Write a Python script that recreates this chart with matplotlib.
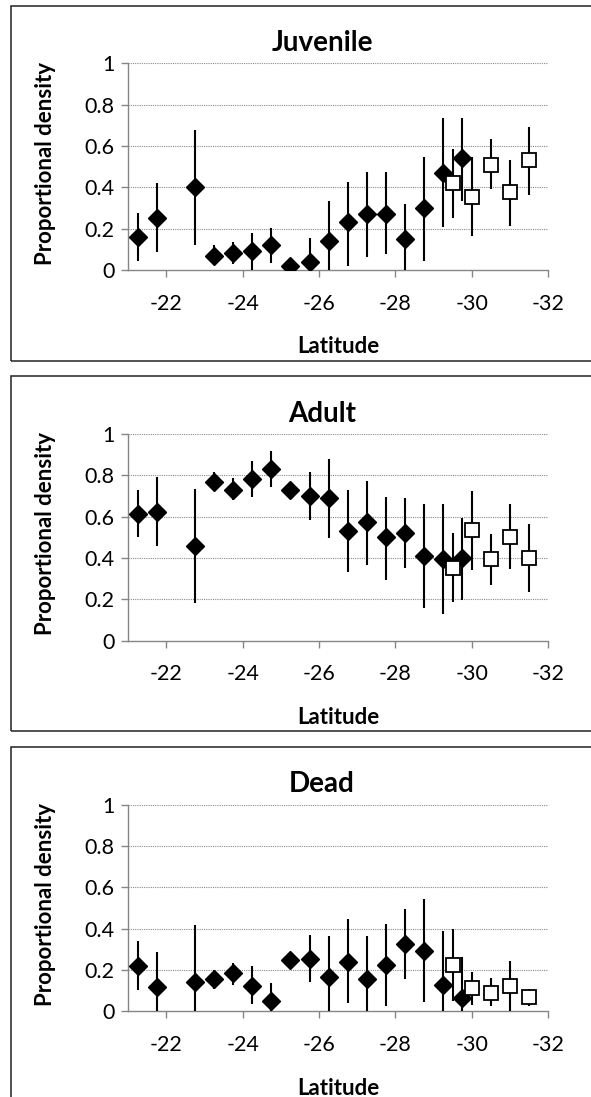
#!/usr/bin/env python3

import matplotlib
matplotlib.use("Agg")
import matplotlib.pyplot as plt
from matplotlib.patches import Rectangle


# Config

W, H = 591, 1097
DPI = 100
PANEL_STEP = 370.7
FONT = ["Lato", "DejaVu Sans"]
AXIS_GREY = "#868686"

# Data

lat_diamond = [-21.25, -21.75, -22.75, -23.25, -23.75, -24.25, -24.75, -25.25,
               -25.75, -26.25, -26.75, -27.25, -27.75, -28.25, -28.75, -29.25, -29.75]
lat_square = [-29.5, -30.0, -30.5, -31.0, -31.5]

juv_d = [0.16, 0.25, 0.40, 0.07, 0.08, 0.09, 0.12, 0.02, 0.04, 0.14, 0.23,
         0.27, 0.27, 0.15, 0.30, 0.47, 0.54]
juv_d_lo = [0.045, 0.085, 0.12, 0.025, 0.027, 0.0, 0.032, 0.02, 0.0, 0.0, 0.02,
            0.065, 0.075, 0.0, 0.045, 0.21, 0.335]
juv_d_hi = [0.275, 0.42, 0.675, 0.12, 0.135, 0.18, 0.205, 0.02, 0.155, 0.335, 0.425,
            0.475, 0.475, 0.32, 0.545, 0.735, 0.735]
juv_s = [0.42, 0.355, 0.51, 0.375, 0.53]
juv_s_lo = [0.25, 0.165, 0.39, 0.215, 0.365]
juv_s_hi = [0.585, 0.545, 0.635, 0.53, 0.69]

adult_d = [0.615, 0.625, 0.46, 0.77, 0.73, 0.78, 0.83, 0.73, 0.70, 0.69, 0.53,
           0.575, 0.50, 0.52, 0.41, 0.395, 0.40]
adult_d_lo = [0.50, 0.46, 0.18, 0.725, 0.68, 0.695, 0.745, 0.73, 0.585, 0.495, 0.33,
              0.365, 0.295, 0.35, 0.16, 0.13, 0.195]
adult_d_hi = [0.73, 0.79, 0.735, 0.815, 0.785, 0.87, 0.92, 0.73, 0.815, 0.88, 0.73,
              0.775, 0.695, 0.69, 0.66, 0.66, 0.595]
adult_s = [0.35, 0.535, 0.395, 0.50, 0.40]
adult_s_lo = [0.185, 0.34, 0.27, 0.345, 0.235]
adult_s_hi = [0.52, 0.725, 0.515, 0.66, 0.565]

dead_d = [0.22, 0.12, 0.14, 0.155, 0.185, 0.125, 0.05, 0.25, 0.255, 0.165, 0.24,
          0.155, 0.225, 0.325, 0.29, 0.13, 0.065]
dead_d_lo = [0.105, 0.0, 0.0, 0.11, 0.13, 0.035, 0.0, 0.25, 0.14, 0.0, 0.04,
             0.0, 0.025, 0.155, 0.045, 0.0, 0.0]
dead_d_hi = [0.34, 0.285, 0.42, 0.20, 0.235, 0.22, 0.135, 0.25, 0.37, 0.365, 0.445,
             0.365, 0.425, 0.495, 0.545, 0.39, 0.265]
dead_s = [0.225, 0.115, 0.09, 0.125, 0.07]
dead_s_lo = [0.05, 0.03, 0.025, 0.0, 0.025]
dead_s_hi = [0.40, 0.19, 0.16, 0.245, 0.11]

titles = ["Juvenile", "Adult", "Dead"]
x_ticks = [-22, -24, -26, -28, -30, -32]
y_ticks = [0, 0.2, 0.4, 0.6, 0.8, 1]
y_tick_labels = ["0", "0.2", "0.4", "0.6", "0.8", "1"]


def fx(px):
    return px / W


def fy(py):
    return 1 - py / H


def err(v, lo, hi):
    return [[a - b for a, b in zip(v, lo)], [c - a for a, c in zip(v, hi)]]


# One panel

def draw_panel(fig, k, title, d, d_lo, d_hi, s, s_lo, s_hi):
    off = k * PANEL_STEP

    # outer chart box
    top = 5.7 + off
    fig.patches.append(Rectangle((fx(11), fy(top + 355)), fx(620 - 11), 355 / H,
                                 transform=fig.transFigure, fill=False,
                                 edgecolor="#222222", linewidth=1.1))

    left, right = 128.3, 548.0
    ptop, pbot = 63.3 + off, 270.0 + off
    ax = fig.add_axes([fx(left), fy(pbot), fx(right - left), (pbot - ptop) / H])

    ax.errorbar(lat_diamond, d, yerr=err(d, d_lo, d_hi), fmt="D", color="black",
                ms=9, elinewidth=1.5, capsize=0, zorder=3)
    ax.errorbar(lat_square, s, yerr=err(s, s_lo, s_hi), fmt="s", color="black",
                mfc="white", mec="black", mew=1.3, ms=9.5, elinewidth=1.5,
                capsize=0, zorder=3)

    ax.set_xlim(-21, -32)
    ax.set_ylim(0, 1)
    ax.set_xticks(x_ticks)
    ax.set_xticklabels([str(t) for t in x_ticks], fontsize=15.5, family=FONT)
    ax.set_yticks(y_ticks)
    ax.set_yticklabels(y_tick_labels, fontsize=15.5, family=FONT)
    ax.tick_params(axis="both", direction="out", length=5, width=1,
                   color=AXIS_GREY, pad=5)
    ax.tick_params(axis="x", pad=12)

    for sp in ["top", "right"]:
        ax.spines[sp].set_visible(False)
    for sp in ["left", "bottom"]:
        ax.spines[sp].set_color(AXIS_GREY)
        ax.spines[sp].set_linewidth(1)

    for yv in y_ticks[1:]:
        ax.axhline(yv, color="#8a8a8a", linestyle=(0, (1, 1)), linewidth=0.8,
                   zorder=1)

    fig.text(fx(45), fy(163 + off), "Proportional density", fontsize=16,
             fontweight="bold", family=FONT, rotation=90,
             ha="center", va="center")
    fig.text(fx(338), fy(347 + off), "Latitude", fontsize=16,
             fontweight="bold", family=FONT, ha="center", va="center")
    fig.text(fx(322), fy(43 + off), title, fontsize=20, fontweight="bold",
             family=FONT, ha="center", va="center")
    return ax


# Main

def main():
    fig = plt.figure(figsize=(W / DPI, H / DPI), dpi=DPI)

    draw_panel(fig, 0, titles[0], juv_d, juv_d_lo, juv_d_hi, juv_s, juv_s_lo, juv_s_hi)
    draw_panel(fig, 1, titles[1], adult_d, adult_d_lo, adult_d_hi,
               adult_s, adult_s_lo, adult_s_hi)
    draw_panel(fig, 2, titles[2], dead_d, dead_d_lo, dead_d_hi,
               dead_s, dead_s_lo, dead_s_hi)

    fig.savefig("out.png", dpi=DPI)
    plt.close(fig)


if __name__ == "__main__":
    main()
